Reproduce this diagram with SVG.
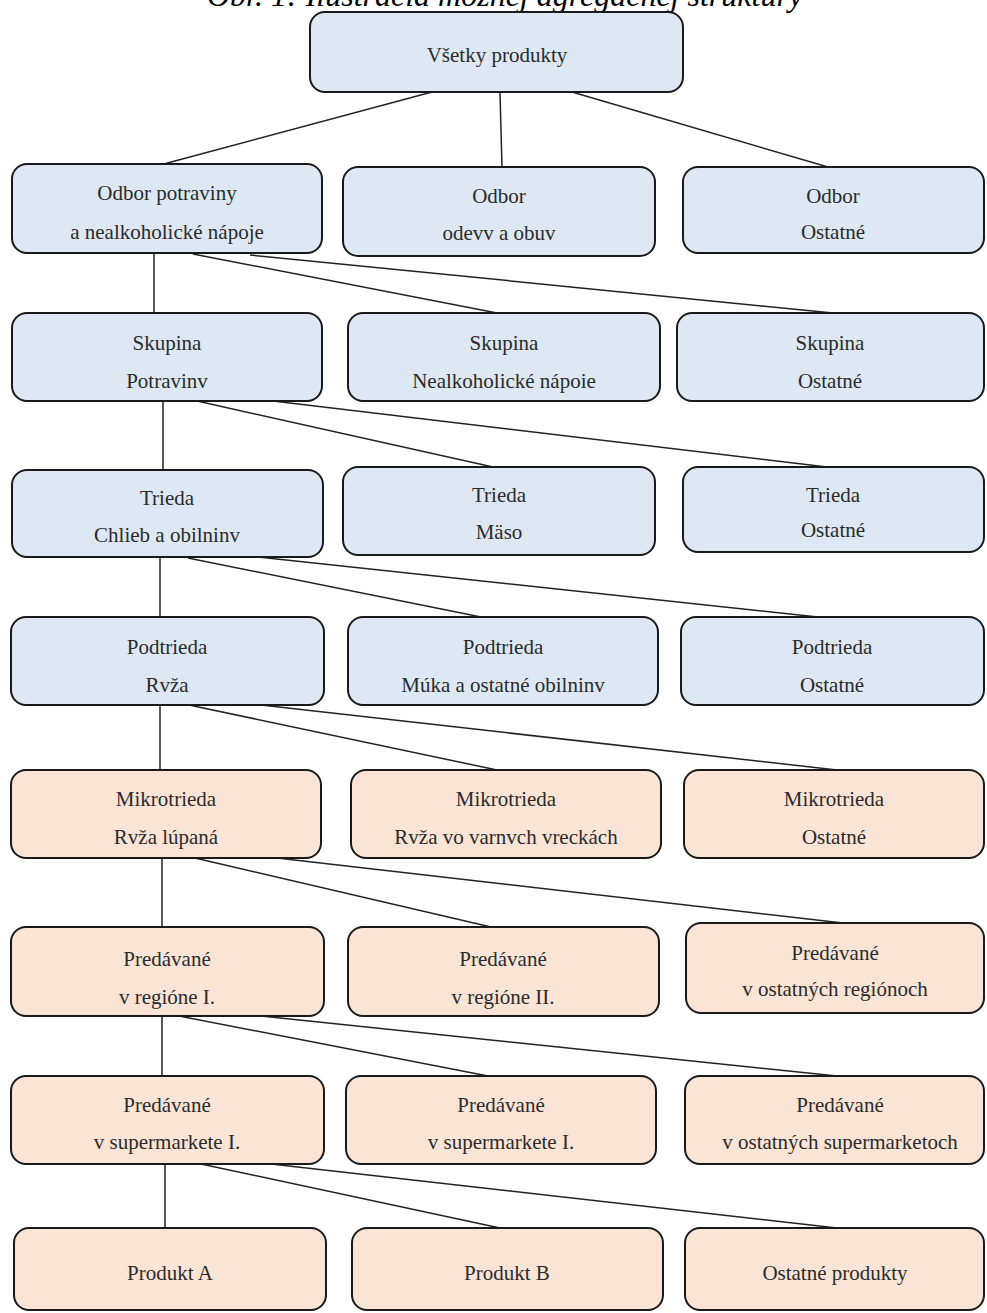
<svg xmlns="http://www.w3.org/2000/svg" width="987" height="1313" viewBox="0 0 987 1313">
<style>
.t{font-family:"Liberation Serif","Times New Roman",serif;font-size:21px;fill:#2b2b2b;text-anchor:middle}
.title{font-family:"Liberation Serif","Times New Roman",serif;font-size:32px;font-style:italic;fill:#000;text-anchor:middle}
.b{fill:#dde8f4;stroke:#1a1a1a;stroke-width:2}
.o{fill:#fae4d6;stroke:#1a1a1a;stroke-width:2}
.c line{stroke:#222;stroke-width:1.5}
</style>
<rect width="987" height="1313" fill="#fff"/>
<text class="title" x="505" y="6">Obr. 1: Ilustrácia možnej agregačnej štruktúry</text>
<g id="connectors" class="c">
<line x1="432" y1="92" x2="160" y2="165"/>
<line x1="500" y1="93" x2="502" y2="167"/>
<line x1="572" y1="92" x2="828" y2="167"/>
<line x1="154" y1="254" x2="154" y2="313"/>
<line x1="193" y1="254" x2="497" y2="313"/>
<line x1="250" y1="255" x2="833" y2="313"/>
<line x1="163" y1="401" x2="163" y2="470"/>
<line x1="197" y1="401" x2="493" y2="467"/>
<line x1="273" y1="401" x2="827" y2="467"/>
<line x1="160" y1="557" x2="160" y2="617"/>
<line x1="188" y1="558" x2="481" y2="617"/>
<line x1="258" y1="557" x2="818" y2="617"/>
<line x1="160" y1="705" x2="160" y2="770"/>
<line x1="189" y1="705" x2="497" y2="770"/>
<line x1="261" y1="705" x2="837" y2="770"/>
<line x1="162" y1="858" x2="162" y2="927"/>
<line x1="195" y1="858" x2="491" y2="927"/>
<line x1="277" y1="858" x2="843" y2="923"/>
<line x1="162" y1="1016" x2="162" y2="1076"/>
<line x1="179" y1="1016" x2="488" y2="1076"/>
<line x1="261" y1="1016" x2="837" y2="1076"/>
<line x1="165" y1="1164" x2="165" y2="1228"/>
<line x1="201" y1="1164" x2="500" y2="1228"/>
<line x1="271" y1="1164" x2="837" y2="1228"/>
</g>
<g id="n-all"><rect class="b" x="310" y="12" width="373" height="80" rx="15"/><text class="t" x="497" y="62">Všetky produkty</text></g>
<g id="n-odbor1"><rect class="b" x="12" y="164" width="310" height="89" rx="15"/><text class="t" x="167" y="200">Odbor potraviny</text><text class="t" x="167" y="239">a nealkoholické nápoje</text></g>
<g id="n-odbor2"><rect class="b" x="343" y="167" width="312" height="89" rx="15"/><text class="t" x="499" y="203">Odbor</text><text class="t" x="499" y="240">odevv a obuv</text></g>
<g id="n-odbor3"><rect class="b" x="683" y="167" width="301" height="86" rx="15"/><text class="t" x="833" y="203">Odbor</text><text class="t" x="833" y="239">Ostatné</text></g>
<g id="n-skup1"><rect class="b" x="12" y="313" width="310" height="88" rx="15"/><text class="t" x="167" y="350">Skupina</text><text class="t" x="167" y="388">Potravinv</text></g>
<g id="n-skup2"><rect class="b" x="348" y="313" width="312" height="88" rx="15"/><text class="t" x="504" y="350">Skupina</text><text class="t" x="504" y="388">Nealkoholické nápoie</text></g>
<g id="n-skup3"><rect class="b" x="677" y="313" width="307" height="88" rx="15"/><text class="t" x="830" y="350">Skupina</text><text class="t" x="830" y="388">Ostatné</text></g>
<g id="n-trieda1"><rect class="b" x="12" y="470" width="311" height="87" rx="15"/><text class="t" x="167" y="505">Trieda</text><text class="t" x="167" y="542">Chlieb a obilninv</text></g>
<g id="n-trieda2"><rect class="b" x="343" y="467" width="312" height="88" rx="15"/><text class="t" x="499" y="502">Trieda</text><text class="t" x="499" y="539">Mäso</text></g>
<g id="n-trieda3"><rect class="b" x="683" y="467" width="301" height="85" rx="15"/><text class="t" x="833" y="502">Trieda</text><text class="t" x="833" y="537">Ostatné</text></g>
<g id="n-podt1"><rect class="b" x="11" y="617" width="313" height="88" rx="15"/><text class="t" x="167" y="654">Podtrieda</text><text class="t" x="167" y="692">Rvža</text></g>
<g id="n-podt2"><rect class="b" x="348" y="617" width="310" height="88" rx="15"/><text class="t" x="503" y="654">Podtrieda</text><text class="t" x="503" y="692">Múka a ostatné obilninv</text></g>
<g id="n-podt3"><rect class="b" x="681" y="617" width="303" height="88" rx="15"/><text class="t" x="832" y="654">Podtrieda</text><text class="t" x="832" y="692">Ostatné</text></g>
<g id="n-mikro1"><rect class="o" x="11" y="770" width="310" height="88" rx="15"/><text class="t" x="166" y="806">Mikrotrieda</text><text class="t" x="166" y="844">Rvža lúpaná</text></g>
<g id="n-mikro2"><rect class="o" x="351" y="770" width="310" height="88" rx="15"/><text class="t" x="506" y="806">Mikrotrieda</text><text class="t" x="506" y="844">Rvža vo varnvch vreckách</text></g>
<g id="n-mikro3"><rect class="o" x="684" y="770" width="300" height="88" rx="15"/><text class="t" x="834" y="806">Mikrotrieda</text><text class="t" x="834" y="844">Ostatné</text></g>
<g id="n-reg1"><rect class="o" x="11" y="927" width="313" height="89" rx="15"/><text class="t" x="167" y="966">Predávané</text><text class="t" x="167" y="1004">v regióne I.</text></g>
<g id="n-reg2"><rect class="o" x="348" y="927" width="311" height="89" rx="15"/><text class="t" x="503" y="966">Predávané</text><text class="t" x="503" y="1004">v regióne II.</text></g>
<g id="n-reg3"><rect class="o" x="686" y="923" width="298" height="90" rx="15"/><text class="t" x="835" y="960">Predávané</text><text class="t" x="835" y="996">v ostatných regiónoch</text></g>
<g id="n-sup1"><rect class="o" x="11" y="1076" width="313" height="88" rx="15"/><text class="t" x="167" y="1112">Predávané</text><text class="t" x="167" y="1149">v supermarkete I.</text></g>
<g id="n-sup2"><rect class="o" x="346" y="1076" width="310" height="88" rx="15"/><text class="t" x="501" y="1112">Predávané</text><text class="t" x="501" y="1149">v supermarkete I.</text></g>
<g id="n-sup3"><rect class="o" x="685" y="1076" width="299" height="88" rx="15"/><text class="t" x="840" y="1112">Predávané</text><text class="t" x="840" y="1149">v ostatných supermarketoch</text></g>
<g id="n-prodA"><rect class="o" x="14" y="1228" width="312" height="82" rx="15"/><text class="t" x="170" y="1280">Produkt A</text></g>
<g id="n-prodB"><rect class="o" x="352" y="1228" width="311" height="82" rx="15"/><text class="t" x="507" y="1280">Produkt B</text></g>
<g id="n-prodC"><rect class="o" x="685" y="1228" width="299" height="82" rx="15"/><text class="t" x="835" y="1280">Ostatné produkty</text></g>
</svg>
